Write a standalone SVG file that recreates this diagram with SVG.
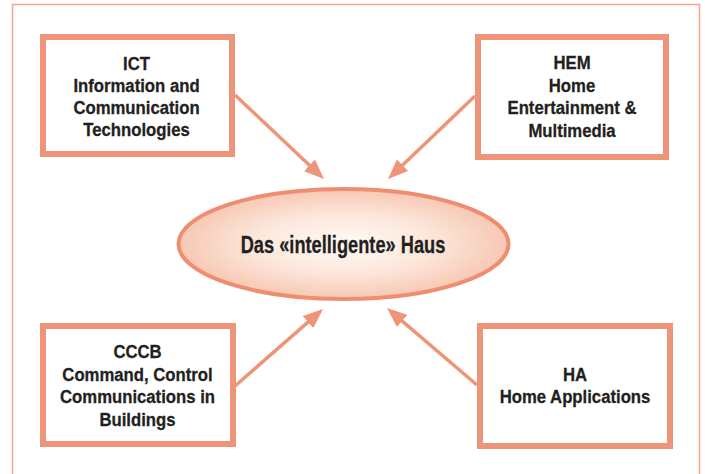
<svg xmlns="http://www.w3.org/2000/svg" width="707" height="474" viewBox="0 0 707 474">
<style>
.box{fill:#fff;stroke:#EE9478;stroke-width:6}
.lbl{font-family:"Liberation Sans",Arial,sans-serif;font-weight:bold;font-size:19px;fill:#231F20;text-anchor:middle;stroke:#231F20;stroke-width:0.3}
.big{font-size:24px}
.conn line{stroke:#EE9478;stroke-width:3.5;marker-end:url(#ah)}
</style>
<defs>
<marker id="ah" viewBox="0 0 20 16" refX="8" refY="8" markerWidth="20" markerHeight="16" markerUnits="userSpaceOnUse" orient="auto">
<path d="M0,0 L20,8 L0,16 z" fill="#EE9478"/>
</marker>
<radialGradient id="eg" cx="0.5" cy="0.5" r="0.5">
<stop offset="0" stop-color="#FFFBF8"/>
<stop offset="0.55" stop-color="#FCE6DA"/>
<stop offset="1" stop-color="#F7C8B3"/>
</radialGradient>
</defs>
<rect width="707" height="474" fill="#fff"/>
<path d="M12.5,480 V4.5 H699.5 V480" fill="none" stroke="#F4A58C" stroke-width="1.5"/>
<g class="conn">
<line x1="235" y1="95" x2="315.3" y2="170.8"/>
<line x1="475" y1="96" x2="396.7" y2="170.7"/>
<line x1="235" y1="386" x2="314.0" y2="316.9"/>
<line x1="477" y1="385" x2="396.1" y2="315.8"/>
</g>
<g id="center">
<ellipse cx="343.5" cy="244" rx="165" ry="55" fill="url(#eg)" stroke="#EE8D70" stroke-width="4"/>
<g transform="translate(343,0) scale(0.76,1)"><text class="lbl big" x="0" y="253">Das «intelligente» Haus</text></g>
</g>
<g id="ict">
<rect class="box" x="43" y="37" width="189" height="117"/>
<g transform="translate(136.5,0) scale(0.88,1)">
<text class="lbl" x="0" y="70">ICT</text>
<text class="lbl" x="0" y="92">Information and</text>
<text class="lbl" x="0" y="114">Communication</text>
<text class="lbl" x="0" y="136">Technologies</text>
</g>
</g>
<g id="hem">
<rect class="box" x="478" y="37" width="188" height="120"/>
<g transform="translate(572,0) scale(0.88,1)">
<text class="lbl" x="0" y="69">HEM</text>
<text class="lbl" x="0" y="92">Home</text>
<text class="lbl" x="0" y="114">Entertainment &amp;</text>
<text class="lbl" x="0" y="137">Multimedia</text>
</g>
</g>
<g id="cccb">
<rect class="box" x="43" y="326" width="190" height="118"/>
<g transform="translate(137.5,0) scale(0.88,1)">
<text class="lbl" x="0" y="358">CCCB</text>
<text class="lbl" x="0" y="381">Command, Control</text>
<text class="lbl" x="0" y="403">Communications in</text>
<text class="lbl" x="0" y="426">Buildings</text>
</g>
</g>
<g id="ha">
<rect class="box" x="480" y="326" width="190" height="120"/>
<g transform="translate(575,0) scale(0.88,1)">
<text class="lbl" x="0" y="381">HA</text>
<text class="lbl" x="0" y="403">Home Applications</text>
</g>
</g>
</svg>
